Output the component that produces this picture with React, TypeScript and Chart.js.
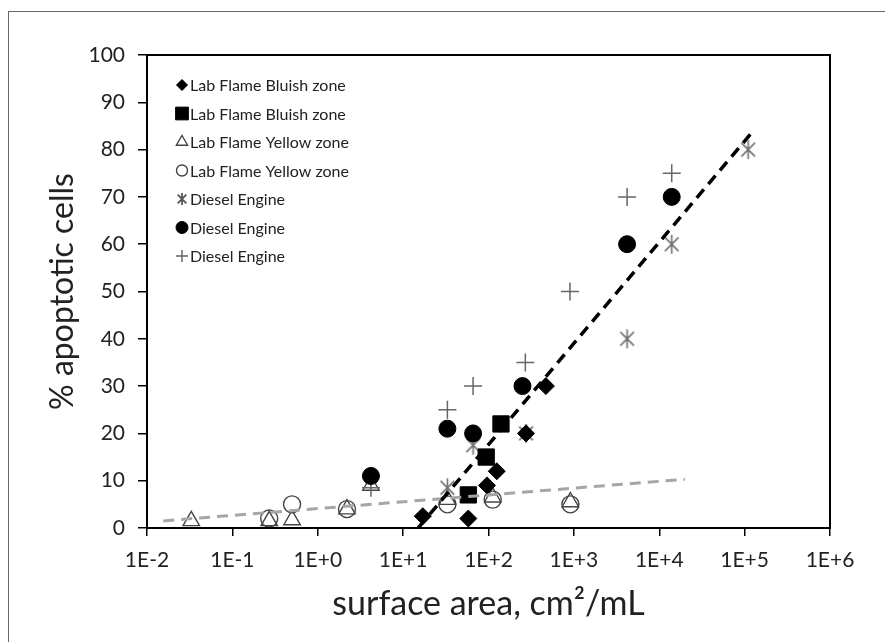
import React, { useEffect, useRef } from 'react';
import { Chart, registerables } from 'chart.js';
import { drawPoint } from 'chart.js/helpers';

Chart.register(...registerables);

// ---- axis ticks ----
const xTickValues = [1e-2, 1e-1, 1, 10, 100, 1e3, 1e4, 1e5, 1e6];
const xTickLabels = ['1E-2', '1E-1', '1E+0', '1E+1', '1E+2', '1E+3', '1E+4', '1E+5', '1E+6'];
const yTickValues = [0, 10, 20, 30, 40, 50, 60, 70, 80, 90, 100];

// ---- series (surface area cm2/mL, % apoptotic cells) ----
const bluishDiamondX = [17, 58, 96, 125, 275, 470];
const bluishDiamondY = [2.5, 2, 9, 12, 20, 30];

const bluishSquareX = [58, 94, 140];
const bluishSquareY = [7, 15, 22];

const yellowTriangleX = [0.033, 0.27, 0.5, 2.2, 4.2, 33, 112, 910];
const yellowTriangleY = [1.5, 1.5, 1.7, 4, 9, 6, 6.5, 5.5];

const yellowCircleX = [0.27, 0.5, 2.2, 33, 112, 910];
const yellowCircleY = [2, 5, 4, 5, 6, 5];

const dieselStarX = [33, 66, 275, 4200, 14000, 110000];
const dieselStarY = [8.5, 17.5, 20, 40, 60, 80];

const dieselDotX = [4.2, 33, 66, 250, 4200, 14000];
const dieselDotY = [11, 21, 20, 30, 60, 70];

const dieselPlusX = [4.2, 33, 66, 270, 900, 4200, 14000];
const dieselPlusY = [8.5, 25, 30, 35, 50, 70, 75];

// trend lines (end points)
const blackTrendX = [15, 120000];
const blackTrendY = [0, 83.5];
const greyTrendX = [0.0155, 20000];
const greyTrendY = [1.5, 10.3];

const seriesLabels = [
  'Lab Flame Bluish zone',
  'Lab Flame Bluish zone',
  'Lab Flame Yellow zone',
  'Lab Flame Yellow zone',
  'Diesel Engine',
  'Diesel Engine',
  'Diesel Engine',
];

const FONT = 'Lato, "Open Sans", sans-serif';

const pts = (xs: number[], ys: number[]) => xs.map((x, i) => ({ x, y: ys[i] }));

// Excel-like asterisk marker (X plus a vertical bar)
function asterisk(r: number, color: string, lw: number): HTMLCanvasElement {
  const s = Math.ceil(2 * r + 4);
  const c = document.createElement('canvas');
  c.width = s;
  c.height = s;
  const g = c.getContext('2d')!;
  const m = s / 2;
  const d = r * 0.72;
  g.strokeStyle = color;
  g.lineWidth = lw;
  g.lineCap = 'butt';
  g.beginPath();
  g.moveTo(m, m - r);
  g.lineTo(m, m + r);
  g.moveTo(m - d, m - d);
  g.lineTo(m + d, m + d);
  g.moveTo(m + d, m - d);
  g.lineTo(m - d, m + d);
  g.stroke();
  return c;
}

const legendPlugin = {
  id: 'insideLegend',
  afterDraw(chart: any) {
    const ctx = chart.ctx;
    ctx.save();
    ctx.font = `16px ${FONT}`;
    ctx.textBaseline = 'middle';
    ctx.textAlign = 'left';
    let row = 0;
    chart.data.datasets.forEach((ds: any) => {
      if (!ds.legendRadius) return;
      const y = 85 + row * 28.5;
      const x = 182;
      ctx.save();
      ctx.fillStyle = ds.backgroundColor;
      ctx.strokeStyle = ds.borderColor;
      ctx.lineWidth = ds.borderWidth;
      drawPoint(
        ctx,
        { pointStyle: ds.legendStyle || ds.pointStyle, radius: ds.legendRadius, borderWidth: ds.borderWidth, rotation: 0 },
        x,
        y
      );
      ctx.restore();
      ctx.fillStyle = '#222';
      ctx.fillText(ds.label, 190, y + 1);
      row++;
    });
    ctx.restore();
  },
};

const framePlugin = {
  id: 'plotFrame',
  afterDatasetsDraw(chart: any) {
    const { ctx, chartArea } = chart;
    ctx.save();
    ctx.strokeStyle = '#000';
    ctx.lineWidth = 2;
    ctx.strokeRect(chartArea.left, chartArea.top, chartArea.right - chartArea.left, chartArea.bottom - chartArea.top);
    ctx.restore();
  },
};

export default function App() {
  const ref = useRef<HTMLCanvasElement>(null);

  useEffect(() => {
    if (!ref.current) return;
    const chart = new Chart(ref.current, {
      type: 'scatter',
      data: {
        datasets: [
          {
            label: 'trend black',
            data: pts(blackTrendX, blackTrendY),
            showLine: true,
            borderColor: '#000',
            borderWidth: 3.5,
            borderDash: [11, 7],
            pointRadius: 0,
            order: 0,
          },
          {
            label: 'trend grey',
            data: pts(greyTrendX, greyTrendY),
            showLine: true,
            borderColor: '#a6a6a6',
            borderWidth: 3,
            borderDash: [11, 7],
            pointRadius: 0,
            order: 0,
          },
          {
            label: seriesLabels[0],
            data: pts(bluishDiamondX, bluishDiamondY),
            pointStyle: 'rectRot',
            pointRadius: 8.5,
            backgroundColor: '#000',
            borderColor: '#000',
            borderWidth: 1,
            legendRadius: 5.5,
            order: 1,
          },
          {
            label: seriesLabels[1],
            data: pts(bluishSquareX, bluishSquareY),
            pointStyle: 'rect',
            pointRadius: 11.5,
            backgroundColor: '#000',
            borderColor: '#000',
            borderWidth: 1,
            legendRadius: 9,
            order: 1,
          },
          {
            label: seriesLabels[2],
            data: pts(yellowTriangleX, yellowTriangleY),
            pointStyle: 'triangle',
            pointRadius: 9.5,
            backgroundColor: 'rgba(255,255,255,0)',
            borderColor: '#444',
            borderWidth: 1.4,
            legendRadius: 6.5,
            order: 3,
          },
          {
            label: seriesLabels[3],
            data: pts(yellowCircleX, yellowCircleY),
            pointStyle: 'circle',
            pointRadius: 8.5,
            backgroundColor: 'rgba(255,255,255,0)',
            borderColor: '#444',
            borderWidth: 1.4,
            legendRadius: 5.5,
            order: 3,
          },
          {
            label: seriesLabels[4],
            data: pts(dieselStarX, dieselStarY),
            pointStyle: asterisk(9.5, '#707070', 1.6),
            legendStyle: asterisk(6, '#555', 1.8),
            pointRadius: 9,
            backgroundColor: '#707070',
            borderColor: '#707070',
            borderWidth: 1.5,
            legendRadius: 6,
            order: 2,
          },
          {
            label: seriesLabels[5],
            data: pts(dieselDotX, dieselDotY),
            pointStyle: 'circle',
            pointRadius: 8.5,
            backgroundColor: '#000',
            borderColor: '#000',
            borderWidth: 1,
            legendRadius: 6,
            order: 1,
          },
          {
            label: seriesLabels[6],
            data: pts(dieselPlusX, dieselPlusY),
            pointStyle: 'cross',
            pointRadius: 9,
            backgroundColor: '#666',
            borderColor: '#666',
            borderWidth: 1.5,
            legendRadius: 6,
            order: 2,
          },
        ] as any,
      },
      options: {
        responsive: false,
        animation: false,
        devicePixelRatio: 1,
        layout: { padding: { top: 55, right: 55, left: 0, bottom: 0 } },
        plugins: {
          legend: { display: false },
          tooltip: { enabled: false },
        },
        scales: {
          x: {
            type: 'logarithmic',
            min: 1e-2,
            max: 1e6,
            afterBuildTicks: (scale: any) => {
              scale.ticks = xTickValues.map((v) => ({ value: v }));
            },
            afterFit: (scale: any) => {
              scale.height = 114;
            },
            ticks: {
              autoSkip: false,
              maxRotation: 0,
              padding: 12,
              color: '#222',
              font: { family: FONT, size: 21 },
              callback: (_v: any, i: number) => xTickLabels[i],
            },
            grid: {
              drawOnChartArea: false,
              drawTicks: true,
              tickLength: 8,
              color: '#000',
              lineWidth: 1.5,
            },
            border: { display: false },
            title: {
              display: true,
              text: 'surface area, cm²/mL',
              color: '#222',
              font: { family: FONT, size: 34 },
              padding: { top: 0, bottom: 18 },
            },
          },
          y: {
            type: 'linear',
            min: 0,
            max: 100,
            afterBuildTicks: (scale: any) => {
              scale.ticks = yTickValues.map((v) => ({ value: v }));
            },
            afterFit: (scale: any) => {
              scale.width = 147;
            },
            ticks: {
              padding: 13,
              color: '#222',
              font: { family: FONT, size: 21 },
            },
            grid: {
              drawOnChartArea: false,
              drawTicks: true,
              tickLength: 9,
              color: '#000',
              lineWidth: 1.5,
            },
            border: { display: false },
            title: {
              display: true,
              text: '% apoptotic cells',
              color: '#222',
              font: { family: FONT, size: 32 },
              padding: { top: 43, bottom: 0 },
            },
          },
        },
      } as any,
      plugins: [framePlugin, legendPlugin],
    });
    return () => chart.destroy();
  }, []);

  return (
    <div style={{ position: 'fixed', left: 0, top: 0, width: 885, height: 642, overflow: 'hidden', background: '#fff' }}>
      <div
        style={{
          position: 'absolute',
          left: 8,
          top: 11,
          width: 1000,
          height: 1000,
          borderLeft: '1.5px solid #666',
          borderTop: '1.5px solid #666',
        }}
      />
      <canvas ref={ref} width={885} height={642} style={{ position: 'absolute', left: 0, top: 0, width: 885, height: 642 }} />
    </div>
  );
}
